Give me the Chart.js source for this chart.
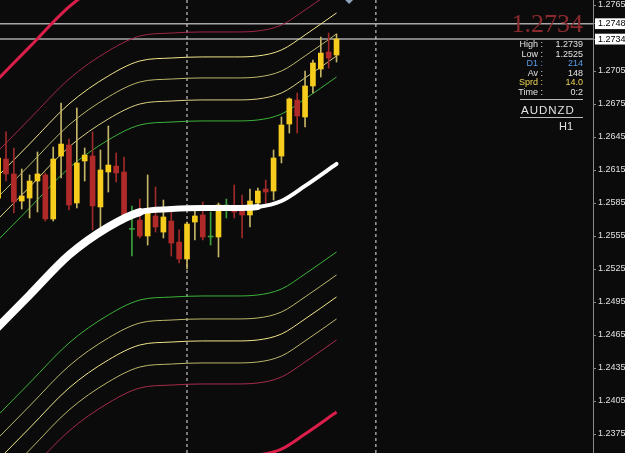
<!DOCTYPE html>
<html lang="en">
<head>
<meta charset="UTF-8">
<title>AUDNZD H1</title>
<script src="https://cdn.jsdelivr.net/npm/chart.js@4/dist/chart.umd.min.js"></script>
<style>
  html, body { margin: 0; padding: 0; background: #0b0b0b; }
  #wrap { position: relative; width: 625px; height: 453px; overflow: hidden; background: #0b0b0b; }
  #chart { position: absolute; left: 0; top: 0; }
  .txt { position: absolute; white-space: nowrap; font-family: 'Liberation Sans', Arial, sans-serif; color: #e2e2e2; }
  .big { right: 42px; top: 11px; font: 26px/1 'Liberation Serif', serif; color: #8a2a2e; }
  .lbl { right: 82px; font-size: 9px; line-height: 10px; }
  .val { right: 42px; font-size: 9px; line-height: 10px; }
  .blue { color: #5a9de8; }
  .yel { color: #eed45a; }
  .rule { position: absolute; left: 520px; width: 63px; height: 1px; background: #bdbdbd; }
  .sym { left: 521px; top: 103.5px; font-size: 11.5px; line-height: 12px; letter-spacing: 1px; }
  .tf { right: 52px; top: 119.5px; font-size: 11px; line-height: 12px; }
</style>
</head>
<body>
<div id="wrap">
  <canvas id="chart" width="625" height="453"></canvas>
  <div class="txt big">1.2734</div>
  <div class="txt lbl" style="top:39px">High :</div>
  <div class="txt val" style="top:39px">1.2739</div>
  <div class="txt lbl" style="top:48.5px">Low :</div>
  <div class="txt val" style="top:48.5px">1.2525</div>
  <div class="txt lbl blue" style="top:58px">D1 :</div>
  <div class="txt val blue" style="top:58px">214</div>
  <div class="txt lbl" style="top:67.5px">Av :</div>
  <div class="txt val" style="top:67.5px">148</div>
  <div class="txt lbl yel" style="top:77px">Sprd :</div>
  <div class="txt val yel" style="top:77px">14.0</div>
  <div class="txt lbl" style="top:86.5px">Time :</div>
  <div class="txt val" style="top:86.5px">0:2</div>
  <div class="rule" style="top:99px"></div>
  <div class="txt sym">AUDNZD</div>
  <div class="rule" style="top:117px"></div>
  <div class="txt tf">H1</div>
</div>
<script>
// hourly candles, first one sits at bar index -1 (half hidden at the left edge)
const FIRST_BAR = -1;
const OPEN  = [1.25895, 1.26250, 1.26114, 1.25868, 1.25895, 1.26050, 1.26105, 1.25705, 1.26277, 1.26377,
               1.25850, 1.26232, 1.26277, 1.25814, 1.26132, 1.26186, 1.26132, 1.25610, 1.25695, 1.25550,
               1.25732, 1.25586, 1.25686, 1.25495, 1.25341, 1.25677, 1.25741, 1.25541, 1.25541, 1.25823,
               1.25814, 1.25786, 1.25741, 1.25850, 1.25977, 1.25959, 1.26277, 1.26568, 1.26786, 1.26632,
               1.26914, 1.27068, 1.27223, 1.27195];
const HIGH  = [1.26332, 1.26496, 1.26350, 1.26159, 1.26105, 1.26314, 1.26123, 1.26359, 1.26759, 1.26432,
               1.26714, 1.26350, 1.26496, 1.26332, 1.26550, 1.26305, 1.26268, 1.25823, 1.25886, 1.26105,
               1.25995, 1.25877, 1.25768, 1.25605, 1.25677, 1.25814, 1.25859, 1.25768, 1.25850, 1.25886,
               1.26014, 1.25923, 1.25977, 1.25986, 1.26059, 1.26332, 1.26632, 1.26805, 1.26850, 1.27050,
               1.27150, 1.27359, 1.27395, 1.27386];
const LOW   = [1.25832, 1.26050, 1.25759, 1.25795, 1.25714, 1.25768, 1.25686, 1.25686, 1.26077, 1.25786,
               1.25805, 1.26050, 1.25605, 1.25605, 1.25950, 1.26041, 1.25695, 1.25368, 1.25532, 1.25468,
               1.25586, 1.25532, 1.25368, 1.25305, 1.25250, 1.25514, 1.25514, 1.25468, 1.25359, 1.25714,
               1.25714, 1.25532, 1.25632, 1.25805, 1.25814, 1.25877, 1.26214, 1.26486, 1.26486, 1.26541,
               1.26850, 1.26995, 1.27077, 1.27132];
const CLOSE = [1.26259, 1.26114, 1.25859, 1.25914, 1.26050, 1.26114, 1.25705, 1.26250, 1.26386, 1.25832,
               1.26214, 1.26286, 1.25823, 1.26150, 1.26195, 1.26123, 1.25741, 1.25610, 1.25550, 1.25795,
               1.25632, 1.25723, 1.25486, 1.25341, 1.25659, 1.25732, 1.25541, 1.25541, 1.25832, 1.25823,
               1.25768, 1.25741, 1.25868, 1.25959, 1.25950, 1.26259, 1.26559, 1.26796, 1.26641, 1.26914,
               1.27123, 1.27213, 1.27168, 1.27341];

// indicator lines, read at these bar indices
const BAND_X     = [-1, 3, 8, 13, 17, 21, 25, 29, 32, 35, 38, 42];
const MA_CENTER  = [1.24723, 1.25014, 1.25377, 1.25632, 1.25768, 1.25795, 1.25805, 1.25805, 1.25814, 1.25868, 1.26005, 1.26205];
const UP_GREEN   = [1.25514, 1.25805, 1.26168, 1.26423, 1.26559, 1.26586, 1.26596, 1.26596, 1.26605, 1.26659, 1.26796, 1.26996];
const UP_PALE    = [1.25705, 1.25996, 1.26359, 1.26614, 1.26750, 1.26777, 1.26787, 1.26787, 1.26796, 1.26850, 1.26987, 1.27187];
const UP_TAN     = [1.25905, 1.26196, 1.26559, 1.26814, 1.26950, 1.26977, 1.26987, 1.26987, 1.26996, 1.27050, 1.27187, 1.27387];
const UP_KHAKI   = [1.26096, 1.26387, 1.26750, 1.27005, 1.27141, 1.27168, 1.27178, 1.27178, 1.27187, 1.27241, 1.27378, 1.27578];
const UP_MAROON  = [1.26323, 1.26614, 1.26977, 1.27232, 1.27368, 1.27395, 1.27405, 1.27405, 1.27414, 1.27468, 1.27605, 1.27805];
const UP_RED     = [1.26978, 1.27269, 1.27632, 1.27887, 1.28023, 1.28050, 1.28060, 1.28060, 1.28069, 1.28123, 1.28260, 1.28460];
const LO_GREEN   = [1.23923, 1.24214, 1.24577, 1.24832, 1.24968, 1.24995, 1.25005, 1.25005, 1.25014, 1.25068, 1.25205, 1.25405];
const LO_TAN     = [1.23714, 1.24005, 1.24368, 1.24623, 1.24759, 1.24786, 1.24796, 1.24796, 1.24805, 1.24859, 1.24996, 1.25196];
const LO_KHAKI   = [1.23514, 1.23805, 1.24168, 1.24423, 1.24559, 1.24586, 1.24596, 1.24596, 1.24605, 1.24659, 1.24796, 1.24996];
const LO_TAN2    = [1.23314, 1.23605, 1.23968, 1.24223, 1.24359, 1.24386, 1.24396, 1.24396, 1.24405, 1.24459, 1.24596, 1.24796];
const LO_MAROON  = [1.23123, 1.23414, 1.23777, 1.24032, 1.24168, 1.24195, 1.24205, 1.24205, 1.24214, 1.24268, 1.24405, 1.24605];
const LO_RED     = [1.22468, 1.22759, 1.23122, 1.23377, 1.23513, 1.23540, 1.23550, 1.23550, 1.23559, 1.23613, 1.23750, 1.23950];

const Y_TICKS     = [1.2375, 1.2405, 1.2435, 1.2465, 1.2495, 1.2525, 1.2555, 1.2585, 1.2615, 1.2645, 1.2675, 1.2705, 1.2765];
const PRICE_LINES = [1.2748, 1.2734];
const SEPARATORS  = [23, 47];
const MARKER      = [{ x: 43.6, y: 1.27705 }];

const Y_MIN = 1.235773, Y_MAX = 1.276955;
const X_MIN = -0.762, X_MAX = 74.587;

Chart.defaults.font.family = "'Liberation Sans', Arial, sans-serif";

const bars = OPEN.map((o, k) => FIRST_BAR + k);
const bodyColor = k => CLOSE[k] > OPEN[k] ? '#f6cd1c' : CLOSE[k] < OPEN[k] ? '#b02a2a' : '#3ca03c';
const wickColor = k => CLOSE[k] > OPEN[k] ? '#c4b466' : CLOSE[k] < OPEN[k] ? '#9e2a2a' : '#3ca03c';

function band(values, color, width, order) {
  return {
    type: 'line',
    data: BAND_X.map((x, k) => ({ x, y: values[k] })),
    borderColor: color, borderWidth: width, pointRadius: 0,
    cubicInterpolationMode: 'monotone', order
  };
}

function vline(x) {
  return {
    type: 'line', data: [{ x, y: Y_MIN }, { x, y: Y_MAX }],
    borderColor: '#e6e6e6', borderWidth: 1, borderDash: [3, 3], pointRadius: 0, order: 6
  };
}

function hline(y) {
  return {
    type: 'line', data: [{ x: X_MIN - 1, y }, { x: X_MAX + 1, y }],
    borderColor: '#a8a8a8', borderWidth: 1.5, pointRadius: 0, order: 7
  };
}

const white = band(MA_CENTER, '#ffffff', 6, 1);
white.borderCapStyle = 'round';
white.borderJoinStyle = 'round';
white.segment = { borderWidth: ctx => ctx.p0DataIndex < 4 ? 8 : ctx.p0DataIndex < 8 ? 6 : 4 };

new Chart(document.getElementById('chart'), {
  type: 'bar',
  data: {
    datasets: [
      {
        type: 'line', data: MARKER, showLine: false, pointStyle: 'rectRot', pointRadius: 5,
        pointBackgroundColor: '#8fa2ba', pointBorderWidth: 0, order: 0
      },
      white,
      {
        data: bars.map((x, k) => ({ x, y: [OPEN[k], CLOSE[k]] })),
        backgroundColor: ctx => bodyColor(ctx.dataIndex),
        barThickness: 5, minBarLength: 1, grouped: false, order: 2
      },
      {
        data: bars.map((x, k) => ({ x, y: [LOW[k], HIGH[k]] })),
        backgroundColor: ctx => wickColor(ctx.dataIndex),
        barThickness: 1, grouped: false, order: 3
      },
      band(UP_GREEN, '#3cb43c', 1, 5),
      band(UP_PALE, '#ddd184', 1, 5),
      band(UP_TAN, '#bdb76b', 1, 5),
      band(UP_KHAKI, '#f0e68c', 1, 5),
      band(UP_MAROON, '#a02848', 1, 5),
      band(UP_RED, '#dc1e4b', 3, 5),
      band(LO_GREEN, '#3cb43c', 1, 5),
      band(LO_TAN, '#bdb76b', 1, 5),
      band(LO_KHAKI, '#f0e68c', 1, 5),
      band(LO_TAN2, '#bdb76b', 1, 5),
      band(LO_MAROON, '#a82c4c', 1, 5),
      band(LO_RED, '#dc1e4b', 3, 5),
      ...SEPARATORS.map(vline),
      ...PRICE_LINES.map(hline)
    ]
  },
  options: {
    responsive: false,
    devicePixelRatio: 1,
    animation: false,
    events: [],
    layout: { padding: 0, autoPadding: false },
    plugins: { legend: { display: false }, tooltip: { enabled: false } },
    scales: {
      x: { type: 'linear', min: X_MIN, max: X_MAX, offset: false, display: false },
      y: {
        type: 'linear', position: 'right', min: Y_MIN, max: Y_MAX,
        afterBuildTicks: s => {
          s.ticks = Y_TICKS.concat(PRICE_LINES).sort((a, b) => a - b).map(value => ({ value }));
        },
        afterFit: s => { s.width = 32; s.paddingTop = 0; s.paddingBottom = 0; },
        grid: { drawOnChartArea: false, drawTicks: true, tickLength: 3, color: '#8a8a8a' },
        border: { display: true, color: '#8a8a8a', width: 1 },
        ticks: {
          autoSkip: false, padding: 2,
          font: { size: 9 },
          color: ctx => PRICE_LINES.includes(ctx.tick.value) ? '#000000' : '#e0e0e0',
          showLabelBackdrop: ctx => PRICE_LINES.includes(ctx.tick.value),
          backdropColor: '#ffffff',
          backdropPadding: { top: 0, bottom: 0, left: 3, right: 8 },
          callback: v => Number(v).toFixed(4)
        }
      }
    }
  }
});
</script>
</body>
</html>
